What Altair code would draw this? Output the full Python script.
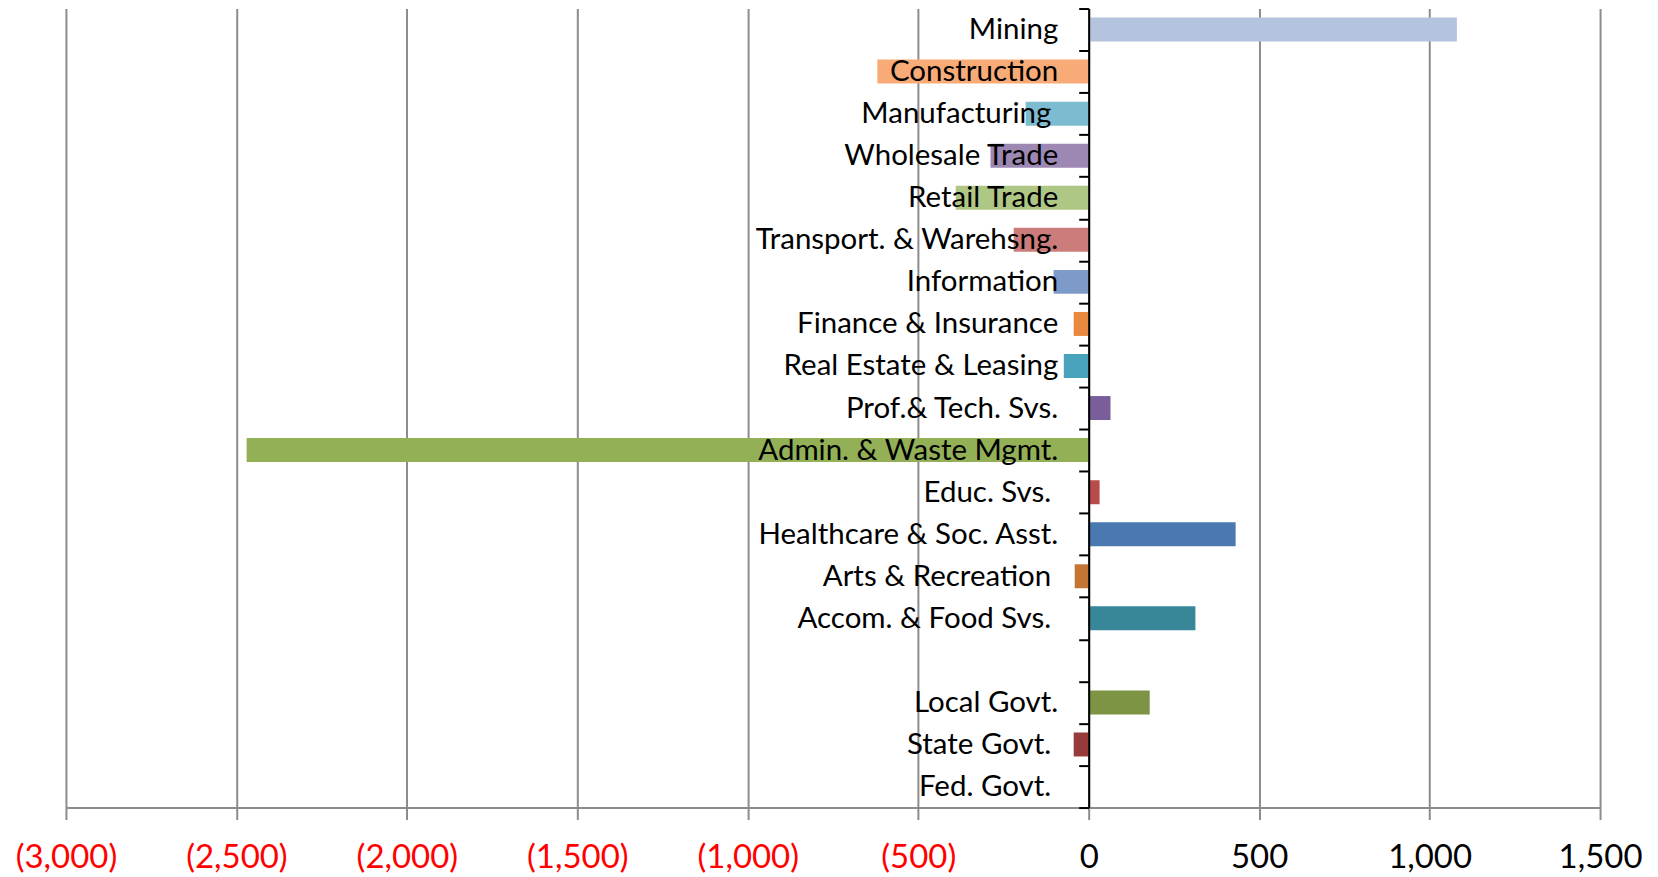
import altair as alt
import pandas as pd

categories = [
    "Mining", "Construction", "Manufacturing", "Wholesale Trade", "Retail Trade",
    "Transport. & Warehsng.", "Information", "Finance & Insurance", "Real Estate & Leasing",
    "Prof.& Tech. Svs.", "Admin. & Waste Mgmt.", "Educ. Svs.", "Healthcare & Soc. Asst.",
    "Arts & Recreation", "Accom. & Food Svs.", " ", "Local Govt.",
    "State Govt.", "Fed. Govt.",
]
# labels that carry a trailing space in the original (drawn slightly further left)
trailing_space = ["Manufacturing", "Educ. Svs.", "Arts & Recreation", "Accom. & Food Svs.",
                  "State Govt.", "Fed. Govt."]
values = [1080, -620, -185, -288, -390, -220, -103, -44, -73, 64, -2470, 32, 431, -41, 313, 0, 179, -44, 0]
colors = [
    "#B4C4DF", "#F9AB77", "#7CBBD0", "#9D88B4", "#AFC785", "#CC7C7B", "#7E9AC7", "#E8893F",
    "#4AA3BC", "#7A5E9A", "#93B057", "#B84B4B", "#4A78B0", "#C47533", "#378799", "#FFFFFF",
    "#7C9443", "#963B3A", "#A0A0A0",
]
x_ticks = [-3000, -2500, -2000, -1500, -1000, -500, 0, 500, 1000, 1500]

df = pd.DataFrame({"category": categories, "value": values})

FONT = "Lato"
trail_test = "indexof([" + ",".join("'" + s + "'" for s in trailing_space) + "], datum.label) >= 0"

chart = alt.Chart(df).mark_bar(height=alt.RelativeBandSize(0.57)).encode(
    x=alt.X(
        "value:Q",
        scale=alt.Scale(domain=[x_ticks[0], x_ticks[-1]], nice=False, zero=True),
        axis=alt.Axis(
            title=None,
            values=x_ticks,
            grid=True,
            gridColor="#8C8C8C",
            gridWidth=2,
            domainColor="#8C8C8C",
            domainWidth=2,
            tickColor="#8C8C8C",
            tickWidth=2,
            tickSize=12,
            labelFont=FONT,
            labelFontSize=33,
            labelPadding=22,
            labelExpr="datum.value < 0 ? '(' + format(-datum.value, ',') + ')' : format(datum.value, ',')",
            labelColor={"condition": {"test": "datum.value < 0", "value": "#FF0000"}, "value": "#000000"},
            labelFlush=False,
            labelOverlap=False,
        ),
    ),
    y=alt.Y(
        "category:N",
        sort=categories,
        scale=alt.Scale(domain=categories, paddingInner=0, paddingOuter=0),
        axis=alt.Axis(
            title=None,
            orient="left",
            offset=-1024,
            domainColor="#000000",
            domainWidth=2,
            tickColor="#000000",
            tickWidth=2,
            tickSize=10,
            tickBand="extent",
            labelFont=FONT,
            labelFontSize=29.5,
            labelColor="#000000",
            labelPadding={"condition": {"test": trail_test, "value": 28}, "value": 21},
            labelLimit=800,
            grid=False,
            zindex=1,
        ),
    ),
    color=alt.Color("category:N", scale=alt.Scale(domain=categories, range=colors), legend=None),
).properties(
    width=1536,
    height=800,
    autosize=alt.AutoSizeParams(type="none"),
    padding={"left": 58, "top": 0, "right": 50, "bottom": 70},
    background="white",
).configure_view(strokeWidth=0)

chart.save("out.html", embed_options={"renderer": "svg", "actions": False})
